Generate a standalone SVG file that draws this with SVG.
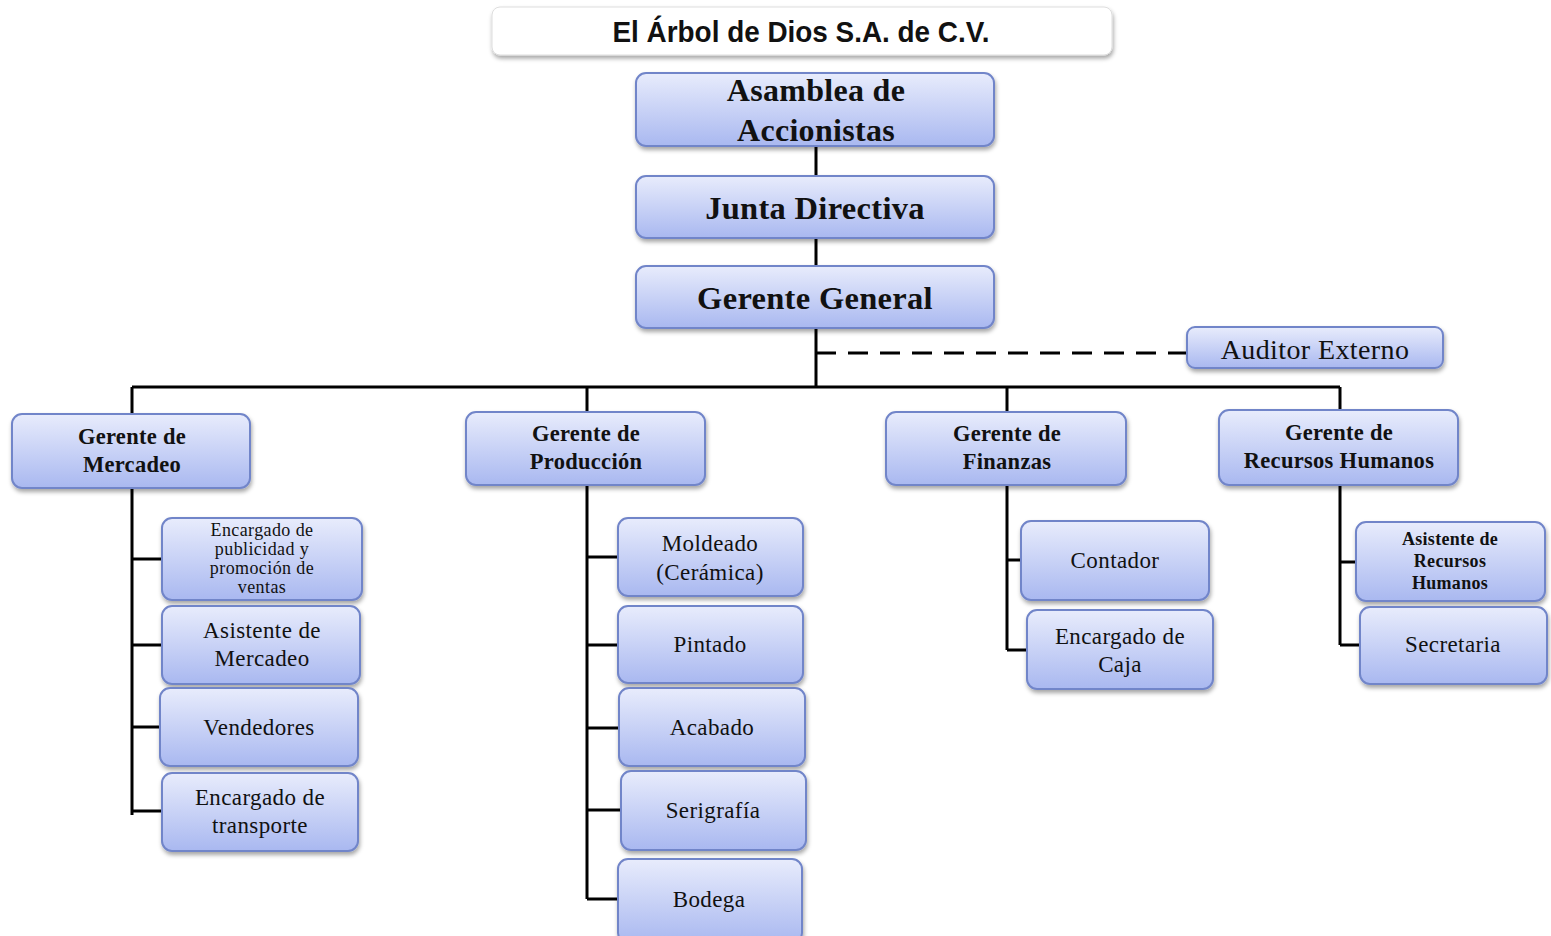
<svg xmlns="http://www.w3.org/2000/svg" width="1551" height="936" viewBox="0 0 1551 936">
<style>
.box{fill:url(#g);stroke:#7185c9;stroke-width:2;filter:url(#sh)}
.t{font-family:"Liberation Serif","DejaVu Serif",serif;fill:#111;text-anchor:middle;dominant-baseline:central;letter-spacing:0.4px}
.b{font-weight:bold;letter-spacing:0.3px}
.n{font-size:23px}
.s{font-size:18px}
.m{font-size:22.5px}
.ln{stroke:#000;stroke-width:3;fill:none}
</style>
<defs>
<linearGradient id="g" x1="0" y1="0" x2="0" y2="1">
<stop offset="0" stop-color="#e8ecfc"/>
<stop offset="1" stop-color="#a9b8f0"/>
</linearGradient>
<filter id="sh" x="-10%" y="-10%" width="120%" height="130%">
<feDropShadow dx="1" dy="3" stdDeviation="2" flood-color="#000" flood-opacity="0.35"/>
</filter>
</defs>
<rect width="1551" height="936" fill="#fff"/>
<g id="connectors">
<path class="ln" d="M816 146V176M816 238V266M816 328V387M132 387H1340M132 387V414M587 387V412M1007 387V412M1340 387V410"/>
<path class="ln" d="M816 353H1187" stroke-dasharray="20 12"/>
<path class="ln" d="M132 488V815M132 559H162M132 645H162M132 727H160M132 811H162"/>
<path class="ln" d="M587 485V899M587 557H618M587 645H618M587 728H619M587 810H621M587 899H618"/>
<path class="ln" d="M1007 485V650M1007 560H1021M1007 650H1027"/>
<path class="ln" d="M1340 485V645M1340 562H1356M1340 645H1360"/>
</g>
<g id="title">
<rect x="492" y="7" width="620" height="48" rx="8" fill="#fff" stroke="#ddd" stroke-width="1" filter="url(#sh)"/>
<text x="801" y="31" class="t b" style="font-family:'Liberation Sans Narrow','Liberation Sans',sans-serif;font-size:30px;letter-spacing:0" textLength="377" lengthAdjust="spacingAndGlyphs">El Árbol de Dios S.A. de C.V.</text>
</g>
<g id="asamblea">
<rect class="box" x="636" y="73" width="358" height="73" rx="10"/>
<text class="t b" x="816" y="90" font-size="32" letter-spacing="1">Asamblea de</text>
<text class="t b" x="816" y="130" font-size="32" letter-spacing="1">Accionistas</text>
</g>
<g id="junta">
<rect class="box" x="636" y="176" width="358" height="62" rx="10"/>
<text class="t b" x="815" y="208" font-size="32.5">Junta Directiva</text>
</g>
<g id="gerente-general">
<rect class="box" x="636" y="266" width="358" height="62" rx="10"/>
<text class="t b" x="815" y="298" font-size="32.5">Gerente General</text>
</g>
<g id="auditor">
<rect class="box" x="1187" y="327" width="256" height="41" rx="8"/>
<text class="t" x="1315" y="349" font-size="28">Auditor Externo</text>
</g>
<g id="g-mercadeo">
<rect class="box" x="12" y="414" width="238" height="74" rx="10"/>
<text class="t b m" x="132" y="436">Gerente de</text>
<text class="t b m" x="132" y="464">Mercadeo</text>
</g>
<g id="g-produccion">
<rect class="box" x="466" y="412" width="239" height="73" rx="10"/>
<text class="t b m" x="586" y="433">Gerente de</text>
<text class="t b m" x="586" y="461">Producción</text>
</g>
<g id="g-finanzas">
<rect class="box" x="886" y="412" width="240" height="73" rx="10"/>
<text class="t b m" x="1007" y="433">Gerente de</text>
<text class="t b m" x="1007" y="461">Finanzas</text>
</g>
<g id="g-rrhh">
<rect class="box" x="1219" y="410" width="239" height="75" rx="10"/>
<text class="t b m" x="1339" y="432">Gerente de</text>
<text class="t b m" x="1339" y="460">Recursos Humanos</text>
</g>
<g id="publicidad">
<rect class="box" x="162" y="518" width="200" height="82" rx="10"/>
<text class="t s" x="262" y="530">Encargado de</text>
<text class="t s" x="262" y="549">publicidad y</text>
<text class="t s" x="262" y="568">promoción de</text>
<text class="t s" x="262" y="587">ventas</text>
</g>
<g id="asistente-mercadeo">
<rect class="box" x="162" y="606" width="198" height="78" rx="10"/>
<text class="t n" x="262" y="630">Asistente de</text>
<text class="t n" x="262" y="658">Mercadeo</text>
</g>
<g id="vendedores">
<rect class="box" x="160" y="688" width="198" height="78" rx="10"/>
<text class="t n" x="259" y="727">Vendedores</text>
</g>
<g id="transporte">
<rect class="box" x="162" y="773" width="196" height="78" rx="10"/>
<text class="t n" x="260" y="797">Encargado de</text>
<text class="t n" x="260" y="825">transporte</text>
</g>
<g id="moldeado">
<rect class="box" x="618" y="518" width="185" height="78" rx="10"/>
<text class="t n" x="710" y="543">Moldeado</text>
<text class="t n" x="710" y="572">(Cerámica)</text>
</g>
<g id="pintado">
<rect class="box" x="618" y="606" width="185" height="77" rx="10"/>
<text class="t n" x="710" y="644">Pintado</text>
</g>
<g id="acabado">
<rect class="box" x="619" y="688" width="186" height="78" rx="10"/>
<text class="t n" x="712" y="727">Acabado</text>
</g>
<g id="serigrafia">
<rect class="box" x="621" y="771" width="185" height="79" rx="10"/>
<text class="t n" x="713" y="810">Serigrafía</text>
</g>
<g id="bodega">
<rect class="box" x="618" y="859" width="184" height="84" rx="10"/>
<text class="t n" x="709" y="899">Bodega</text>
</g>
<g id="contador">
<rect class="box" x="1021" y="521" width="188" height="79" rx="10"/>
<text class="t n" x="1115" y="560">Contador</text>
</g>
<g id="caja">
<rect class="box" x="1027" y="610" width="186" height="79" rx="10"/>
<text class="t n" x="1120" y="636">Encargado de</text>
<text class="t n" x="1120" y="664">Caja</text>
</g>
<g id="asistente-rrhh">
<rect class="box" x="1356" y="522" width="189" height="79" rx="10"/>
<text class="t b s" x="1450" y="539">Asistente de</text>
<text class="t b s" x="1450" y="561">Recursos</text>
<text class="t b s" x="1450" y="583">Humanos</text>
</g>
<g id="secretaria">
<rect class="box" x="1360" y="607" width="187" height="77" rx="10"/>
<text class="t n" x="1453" y="644">Secretaria</text>
</g>
</svg>
